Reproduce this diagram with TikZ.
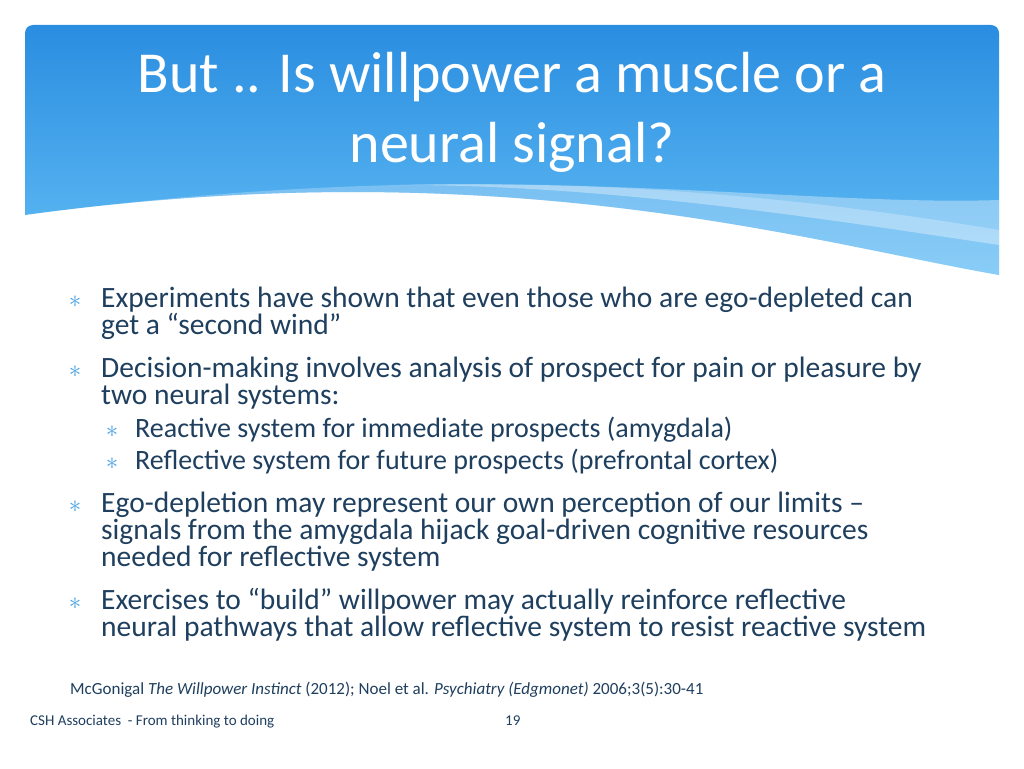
\documentclass[tikz,border=0pt]{standalone}
\usepackage{fontspec}
\setmainfont{Carlito}
\definecolor{headtop}{HTML}{2A8DE0}
\definecolor{headbot}{HTML}{62BDF5}
\definecolor{bulletblue}{HTML}{4AA3E3}
\definecolor{bodytext}{HTML}{1F3F5F}
\tikzset{
  bodyline/.style={anchor=base west,inner sep=0pt,text=bodytext,font=\fontsize{29.5}{32}\selectfont},
  subline/.style={anchor=base west,inner sep=0pt,text=bodytext,font=\fontsize{28}{30}\selectfont},
  bulletmark/.style={anchor=base,inner sep=0pt,text=bulletblue,font=\fontsize{26}{26}\selectfont},
  footline/.style={anchor=base west,inner sep=0pt,text=bodytext,font=\fontsize{17}{19}\selectfont}
}
\begin{document}
\begin{tikzpicture}[x=1pt,y=-1pt]
\useasboundingbox (0,0) rectangle (1024,768);
\fill[white] (0,0) rectangle (1024,768);

%HEADER
\shade[top color=headtop,bottom color=headbot]
  (25,215) [rounded corners=8pt] -- (25,25) -- (999,25) [sharp corners] -- (999,275)
  .. controls (800,240) and (500,150) .. (25,215) -- cycle;
\fill[white,opacity=0.25] (25,215) .. controls (400,165) and (700,180) .. (999,230)
  -- (999,275) .. controls (800,240) and (500,150) .. (25,215) -- cycle;
\fill[white,opacity=0.35] (400,185) .. controls (650,180) and (850,205) .. (999,200)
  -- (999,245) .. controls (800,215) and (600,185) .. (400,185) -- cycle;
\node[text=white,font=\fontsize{58}{70}\selectfont,align=center] (title) at (512,112)
  {But .. Is willpower a muscle or a\\neural signal?};

%BULLETS
\node[bulletmark] (b1) at (75,307) {$\ast$};
\node[bodyline] (t1) at (101,307) {Experiments have shown that even those who are ego-depleted can};
\node[bodyline] (t1b) at (101,334) {get a “second wind”};
\node[bulletmark] (b2) at (75,377) {$\ast$};
\node[bodyline] (t2) at (101,377) {Decision-making involves analysis of prospect for pain or pleasure by};
\node[bodyline] (t2b) at (101,404) {two neural systems:};
\node[bulletmark] (b3) at (112,437) {$\ast$};
\node[subline] (t3) at (135,437) {Reactive system for immediate prospects (amygdala)};
\node[bulletmark] (b4) at (112,469) {$\ast$};
\node[subline] (t4) at (135,469) {Reflective system for future prospects (prefrontal cortex)};
\node[bulletmark] (b5) at (75,512) {$\ast$};
\node[bodyline] (t5) at (101,512) {Ego-depletion may represent our own perception of our limits –};
\node[bodyline] (t5b) at (101,539) {signals from the amygdala hijack goal-driven cognitive resources};
\node[bodyline] (t5c) at (101,566) {needed for reflective system};
\node[bulletmark] (b6) at (75,609) {$\ast$};
\node[bodyline] (t6) at (101,609) {Exercises to “build” willpower may actually reinforce reflective};
\node[bodyline] (t6b) at (101,636) {neural pathways that allow reflective system to resist reactive system};

%FOOTER
\node[footline] (ref) at (70,694) {McGonigal \textit{The Willpower Instinct} (2012); Noel et al. \textit{Psychiatry (Edgmonet)} 2006;3(5):30-41};
\node[footline,font=\fontsize{15}{17}\selectfont] (foot) at (30,725) {CSH Associates \ - From thinking to doing};
\node[footline,font=\fontsize{15}{17}\selectfont] (page) at (505,725) {19};
\end{tikzpicture}
\end{document}
